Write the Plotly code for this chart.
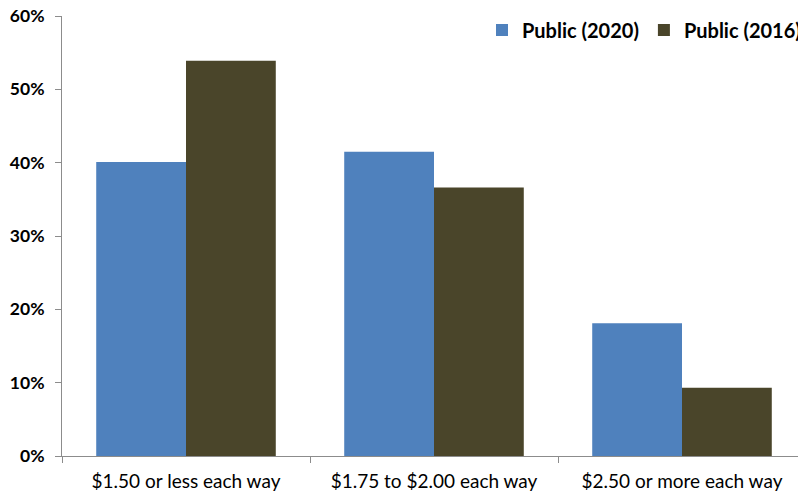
import plotly.graph_objects as go

categories = ["$1.50 or less each way", "$1.75 to $2.00 each way", "$2.50 or more each way"]
public_2020 = [40.1, 41.5, 18.1]
public_2016 = [53.9, 36.6, 9.3]
y_ticks = [0, 10, 20, 30, 40, 50, 60]
y_tick_labels = ["0%", "10%", "20%", "30%", "40%", "50%", "60%"]

fig = go.Figure()
fig.add_trace(go.Bar(name="Public (2020)", x=categories, y=public_2020,
                     marker=dict(color="#4F81BD", line=dict(width=0))))
fig.add_trace(go.Bar(name="Public (2016)", x=categories, y=public_2016,
                     marker=dict(color="#4A452A", line=dict(width=0))))

# page body has an 8px margin, so the figure is sized/offset to compensate
fig.update_layout(
    width=798, height=487,
    margin=dict(l=54, r=0, t=8, b=39, autoexpand=False),
    paper_bgcolor="white", plot_bgcolor="white",
    barmode="group", bargap=0.276, bargroupgap=0,
    font=dict(family="Lato", color="#000000"),
    legend=dict(orientation="h", x=1.0, xanchor="right", y=0.968, yanchor="middle",
                font=dict(size=20, family="Lato", weight="bold"),
                bgcolor="rgba(0,0,0,0)", traceorder="normal"),
    showlegend=True,
)
fig.update_yaxes(range=[0, 60], tickvals=y_ticks, ticktext=y_tick_labels, automargin=False,
                 showgrid=False, zeroline=False, showline=True, linecolor="#8c8c8c",
                 linewidth=1, ticks="outside", ticklen=6, tickcolor="#8c8c8c",
                 ticklabeloverflow="allow", ticklabelstandoff=7,
                 tickfont=dict(size=17.5, family="Lato", weight="bold"))
fig.update_xaxes(showgrid=False, showline=True, linecolor="#8c8c8c", linewidth=1, automargin=False,
                 ticks="outside", ticklen=6, tickcolor="#8c8c8c", tickson="boundaries",
                 ticklabeloverflow="allow", ticklabelstandoff=8,
                 tickfont=dict(size=19, family="Lato"))

fig.write_html("out.html")
